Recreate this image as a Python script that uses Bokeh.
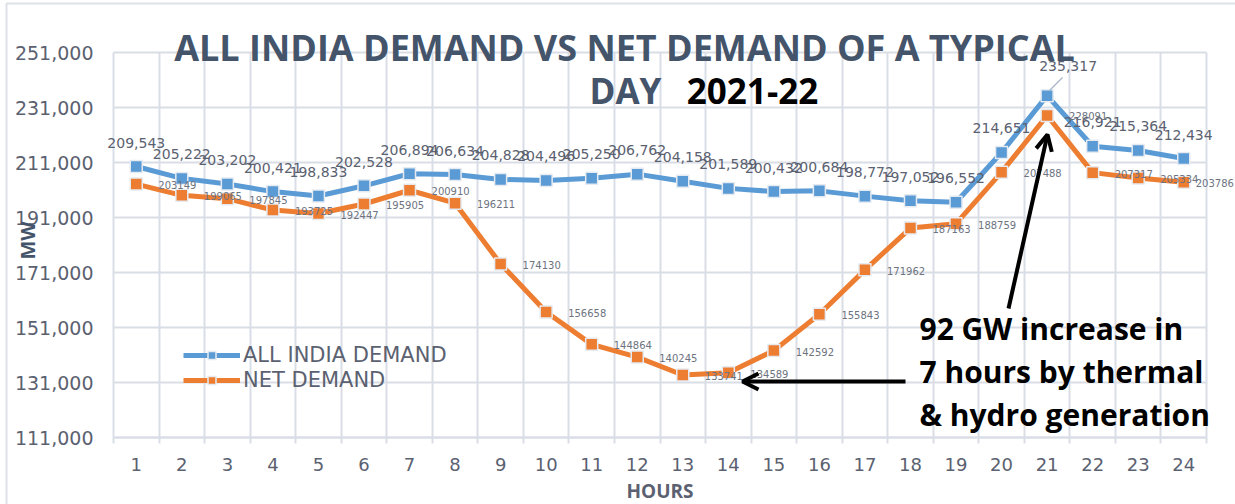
from bokeh.plotting import figure
from bokeh.models import (Range1d, FixedTicker, NumeralTickFormatter, Label, Legend, LegendItem,
                          Arrow, OpenHead, ColumnDataSource, Grid, BoxAnnotation)
from bokeh.embed import file_html
from bokeh.resources import INLINE
from bokeh.core.properties import value

# ---------------- data ----------------
hours = list(range(1, 25))
all_india_demand = [209543, 205222, 203202, 200421, 198833, 202528, 206894, 206634, 204828, 204496,
                    205250, 206762, 204158, 201589, 200432, 200684, 198772, 197052, 196552, 214651,
                    235317, 216921, 215364, 212434]
net_demand = [203149, 199065, 197845, 193725, 192447, 195905, 200910, 196211, 174130, 156658,
              144864, 140245, 133741, 134589, 142592, 155843, 171962, 187163, 188759, 207488,
              228091, 207317, 205334, 203786]
y_ticks = [111000, 131000, 151000, 171000, 191000, 211000, 231000, 251000]
series_names = ["ALL INDIA DEMAND", "NET DEMAND"]

title_line1 = "ALL INDIA DEMAND VS NET DEMAND OF A TYPICAL"
title_line2 = "DAY"
title_year = "2021-22"
note_lines = ["92 GW increase in", "7 hours by thermal", "& hydro generation"]

# ---------------- styling ----------------
BLUE = "#5B9BD5"
ORANGE = "#ED7D31"
GRID = "#d9dee6"
TXT = "#5b6170"
TITLE_C = "#44546A"

W, H = 1235, 504
X0, X1 = 0.5, 24.5
Y0, Y1 = 111000, 251000
PL, PT, PR, PB = 113, 52, 1206, 437   # plot-area box in canvas px
xs = (X1 - X0) / (PR - PL)           # data units per px
ys = (Y1 - Y0) / (PB - PT)


def px(xc, yc):
    """canvas pixel -> data coords (annotations only)"""
    return X0 + (xc - PL) * xs, Y1 - (yc - PT) * ys


p = figure(width=W, height=H, min_border=0,
           x_range=Range1d(X0 - PL * xs, X1 + (W - PR) * xs),
           y_range=Range1d(Y0 - (H - PB) * ys, Y1 + PT * ys),
           output_backend="svg", toolbar_location=None, background_fill_color="white",
           border_fill_color="white")
p.outline_line_color = None

# chart-area border (left and top edges visible)
bl, bt = px(6, 3)
br, bb = px(W + 20, H + 20)
p.add_layout(BoxAnnotation(left=bl, right=br, top=bt, bottom=bb, fill_alpha=0,
                           line_color="#dde1e7", line_width=2, line_alpha=1))

# axes (drawn at the plot-area edges)
bounds = [h - 0.5 for h in hours] + [X1]
p.xaxis.fixed_location = Y0
p.xaxis.bounds = (X0, X1)
p.xaxis.ticker = FixedTicker(ticks=hours, minor_ticks=bounds)
p.xaxis.major_tick_line_color = None
p.xaxis.major_tick_out = 0
p.xaxis.major_tick_in = 0
p.xaxis.minor_tick_out = 6
p.xaxis.minor_tick_in = 0
p.xaxis.minor_tick_line_color = GRID
p.xaxis.minor_tick_line_width = 2
p.xaxis.axis_line_color = GRID
p.xaxis.axis_line_width = 2
p.xaxis.major_label_text_font = "DejaVu Sans"
p.xaxis.major_label_text_font_size = "18px"
p.xaxis.major_label_text_color = TXT
p.xaxis.major_label_standoff = 14
p.xaxis.axis_label = "HOURS"
p.xaxis.axis_label_text_font = "Open Sans"
p.xaxis.axis_label_text_font_style = "bold"
p.xaxis.axis_label_text_font_size = "19px"
p.xaxis.axis_label_text_color = TXT
p.xaxis.axis_label_standoff = 4

p.yaxis.fixed_location = X0
p.yaxis.bounds = (Y0, Y1)
p.yaxis.ticker = FixedTicker(ticks=y_ticks)
p.yaxis.formatter = NumeralTickFormatter(format="0,0")
p.yaxis.major_tick_line_color = None
p.yaxis.major_tick_out = 0
p.yaxis.major_tick_in = 0
p.yaxis.minor_tick_line_color = None
p.yaxis.axis_line_color = None
p.yaxis.major_label_text_font = "DejaVu Sans"
p.yaxis.major_label_text_font_size = "19px"
p.yaxis.major_label_text_color = TXT
p.yaxis.major_label_standoff = 20

# grid, limited to the plot-area box
if "cross_bounds" in Grid.properties():
    p.xgrid.ticker = FixedTicker(ticks=bounds)
    p.xgrid.cross_bounds = (Y0, Y1)
    p.ygrid.cross_bounds = (X0, X1)
    for g in (p.xgrid, p.ygrid):
        g.grid_line_color = GRID
        g.grid_line_width = 2
else:
    p.xgrid.visible = False
    p.ygrid.visible = False
    p.segment(x0=bounds, y0=[Y0] * len(bounds), x1=bounds, y1=[Y1] * len(bounds),
              line_color=GRID, line_width=2)
    p.segment(x0=[X0] * len(y_ticks), y0=y_ticks, x1=[X1] * len(y_ticks), y1=y_ticks,
              line_color=GRID, line_width=2)

# series
src = ColumnDataSource(dict(
    x=hours, d=all_india_demand, n=net_demand,
    dl=[f"{v:,}" for v in all_india_demand],
    nl=[str(v) for v in net_demand],
))
blue_dx = [0] * 24
blue_dy = [-24] * 24
blue_dx[20], blue_dy[20] = 21, -30
net_dx = [22] * 24
net_dy = [1] * 24
net_dx[23] = 12
src.data["bdx"] = blue_dx
src.data["bdy"] = blue_dy
src.data["ndx"] = net_dx
src.data["ndy"] = net_dy

l1 = p.line("x", "d", source=src, color=BLUE, line_width=5)
m1 = p.scatter("x", "d", source=src, marker="square", size=12, fill_color=BLUE,
               line_color="#e6ebf2", line_width=1.5)
l2 = p.line("x", "n", source=src, color=ORANGE, line_width=5)
m2 = p.scatter("x", "n", source=src, marker="square", size=12, fill_color=ORANGE,
               line_color="#e6ebf2", line_width=1.5)

# leader line for the peak label
lx0, ly0 = px(1049, 90)
lx1, ly1 = px(1062, 77)
p.segment(x0=[lx0], y0=[ly0], x1=[lx1], y1=[ly1], line_color="#a9b6c6", line_width=1.2)

p.text("x", "d", text="dl", source=src, x_offset="bdx", y_offset="bdy",
       text_align="center", text_baseline="middle", text_font=value("DejaVu Sans"),
       text_font_size="14px", text_color=TXT)
p.text("x", "n", text="nl", source=src, x_offset="ndx", y_offset="ndy",
       text_align="left", text_baseline="middle", text_font=value("DejaVu Sans"),
       text_font_size="10px", text_color="#6d7380")

# legend
legend = Legend(items=[LegendItem(label=series_names[0], renderers=[l1, m1]),
                       LegendItem(label=series_names[1], renderers=[l2, m2])],
                location=(183, H - 392), glyph_width=57, glyph_height=20, label_height=20,
                label_standoff=3, spacing=1, padding=0, margin=0,
                label_text_font="DejaVu Sans", label_text_font_size="21px",
                label_text_color=TXT, background_fill_alpha=0, border_line_alpha=0)
p.add_layout(legend)


def clabel(x, y, text, size, color, align="center", angle=0.0, font="Open Sans"):
    p.add_layout(Label(x=x, y=y, x_units="canvas", y_units="canvas", text=text, angle=angle,
                       text_align=align, text_baseline="middle", text_font=font,
                       text_font_style="bold", text_font_size=size, text_color=color))


# title
clabel(624, 47, title_line1, "36px", TITLE_C)
clabel(625, 90, title_line2, "35px", TITLE_C)
clabel(752, 90, title_year, "35px", "black")
# MW label
clabel(27, 240, "MW", "20px", TITLE_C, angle=1.5708)
# annotation text
for line, yy in zip(note_lines, [328, 371, 414]):
    clabel(919, yy, line, "30px", "black", align="left")

# arrows
ax0, ay0 = px(1008, 308)
ax1, ay1 = px(1047, 134)
p.add_layout(Arrow(x_start=ax0, y_start=ay0, x_end=ax1, y_end=ay1, line_width=4,
                   line_color="black", end=OpenHead(size=16, line_width=4, line_color="black")))
bx0, by0 = px(905, 381)
bx1, by1 = px(742, 381)
p.add_layout(Arrow(x_start=bx0, y_start=by0, x_end=bx1, y_end=by1, line_width=4,
                   line_color="black", end=OpenHead(size=16, line_width=4, line_color="black")))

open("out.html", "w").write(file_html(p, INLINE))
